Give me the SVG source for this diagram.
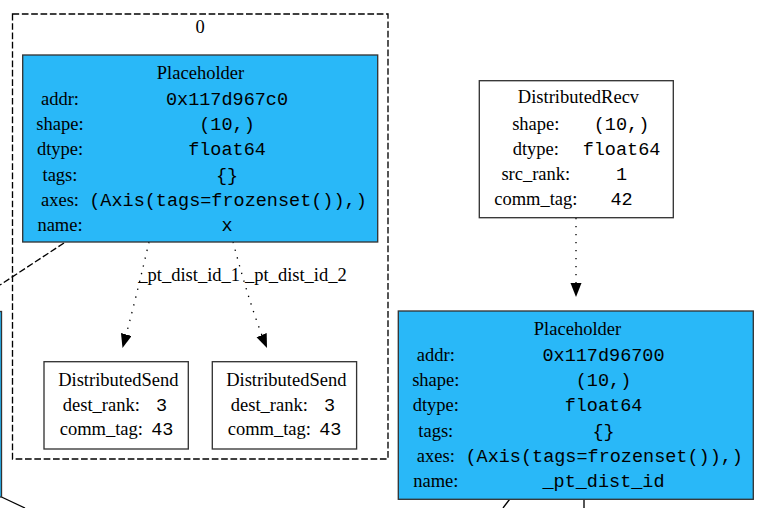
<svg xmlns="http://www.w3.org/2000/svg" width="759" height="508" viewBox="0 0 759 508">
<defs>
<style>
.t{font-family:"Liberation Serif","Times New Roman",serif;font-size:18.5px;fill:#000;text-anchor:middle}
.m{font-family:"Liberation Mono","Courier New",monospace;font-size:18.5px;fill:#000;text-anchor:middle}
.node{stroke:#333;stroke-width:1.33}
.blue{fill:#29b8f8}
.white{fill:#fff}
.dot{fill:none;stroke:#000;stroke-width:1.33;stroke-dasharray:1.33,6.67}
.dash{fill:none;stroke:#000;stroke-width:1.33;stroke-dasharray:6.67,2.67}
.solid{fill:none;stroke:#000;stroke-width:1.33}
</style>
<marker id="arr" markerUnits="userSpaceOnUse" markerWidth="16" markerHeight="12" refX="14" refY="5.5" orient="auto">
<path d="M0,0 L14,5.5 L0,11 Z" fill="#000"/>
</marker>
</defs>
<rect width="759" height="508" fill="#fff"/>
<g id="cluster0">
<rect x="12.5" y="14" width="375.5" height="445" fill="none" class="dash"/>
<text class="t" x="200" y="33.3">0</text>
</g>
<g id="connectors">
<path class="dot" d="M149,242 C142,272 132,314 122.5,348" marker-end="url(#arr)"/>
<path class="dot" d="M233,242 C240,268 252,312 267,348" marker-end="url(#arr)"/>
<path class="dot" d="M576,218 L576,297" marker-end="url(#arr)"/>
<path class="dash" d="M64,243 L0,285"/>
<path class="solid" d="M1.5,497 L25,508"/>
<path class="solid" d="M509.5,499.5 L503,508"/>
<path class="solid" d="M584,499.5 L584,508"/>
<text class="t" x="138.3" y="281" style="text-anchor:start">_pt_dist_id_1</text>
<text class="t" x="245" y="281" style="text-anchor:start">_pt_dist_id_2</text>
</g>
<g id="left_node">
<rect x="-300" y="311.5" width="301.5" height="185.5" class="node blue"/>
</g>
<g id="placeholder_x">
<rect x="22.7" y="55" width="355" height="187" class="node blue"/>
<text class="t" x="200.5" y="79">Placeholder</text>
<text class="t" x="60" y="104.5">addr:</text><text class="m" x="227" y="104.5">0x117d967c0</text>
<text class="t" x="60" y="130">shape:</text><text class="m" x="227" y="130">(10,)</text>
<text class="t" x="60" y="155">dtype:</text><text class="m" x="227" y="155">float64</text>
<text class="t" x="60" y="180.5">tags:</text><text class="m" x="227" y="180.5">{}</text>
<text class="t" x="60" y="205.5">axes:</text><text class="m" x="228" y="205.5">(Axis(tags=frozenset()),)</text>
<text class="t" x="60" y="231">name:</text><text class="m" x="227" y="231">x</text>
</g>
<g id="send1">
<rect x="44" y="361.7" width="144.3" height="87.3" class="node white"/>
<text class="t" x="118.3" y="385.7">DistributedSend</text>
<text class="t" x="101.3" y="410.7">dest_rank:</text><text class="m" x="161.5" y="410.7">3</text>
<text class="t" x="101.3" y="435">comm_tag:</text><text class="m" x="162.3" y="435">43</text>
</g>
<g id="send2">
<rect x="212.3" y="361.7" width="144.3" height="87.3" class="node white"/>
<text class="t" x="286.3" y="385.7">DistributedSend</text>
<text class="t" x="269.3" y="410.7">dest_rank:</text><text class="m" x="329.5" y="410.7">3</text>
<text class="t" x="269.3" y="435">comm_tag:</text><text class="m" x="330.3" y="435">43</text>
</g>
<g id="recv">
<rect x="479.3" y="80.7" width="194" height="137" class="node white"/>
<text class="t" x="578.5" y="103.3">DistributedRecv</text>
<text class="t" x="535.8" y="130">shape:</text><text class="m" x="621.5" y="130">(10,)</text>
<text class="t" x="535.8" y="155">dtype:</text><text class="m" x="621.5" y="155">float64</text>
<text class="t" x="535.8" y="180">src_rank:</text><text class="m" x="621.5" y="180">1</text>
<text class="t" x="535.8" y="205">comm_tag:</text><text class="m" x="621.5" y="205">42</text>
</g>
<g id="placeholder_pt_dist_id">
<rect x="398.3" y="311" width="355" height="188.3" class="node blue"/>
<text class="t" x="577.5" y="335">Placeholder</text>
<text class="t" x="435.8" y="360.5">addr:</text><text class="m" x="603.5" y="360.5">0x117d96700</text>
<text class="t" x="435.8" y="386">shape:</text><text class="m" x="603.5" y="386">(10,)</text>
<text class="t" x="435.8" y="411">dtype:</text><text class="m" x="603.5" y="411">float64</text>
<text class="t" x="435.8" y="436.5">tags:</text><text class="m" x="603.5" y="436.5">{}</text>
<text class="t" x="435.8" y="462">axes:</text><text class="m" x="604.2" y="462">(Axis(tags=frozenset()),)</text>
<text class="t" x="435.8" y="487">name:</text><text class="m" x="603.5" y="487">_pt_dist_id</text>
</g>
</svg>
